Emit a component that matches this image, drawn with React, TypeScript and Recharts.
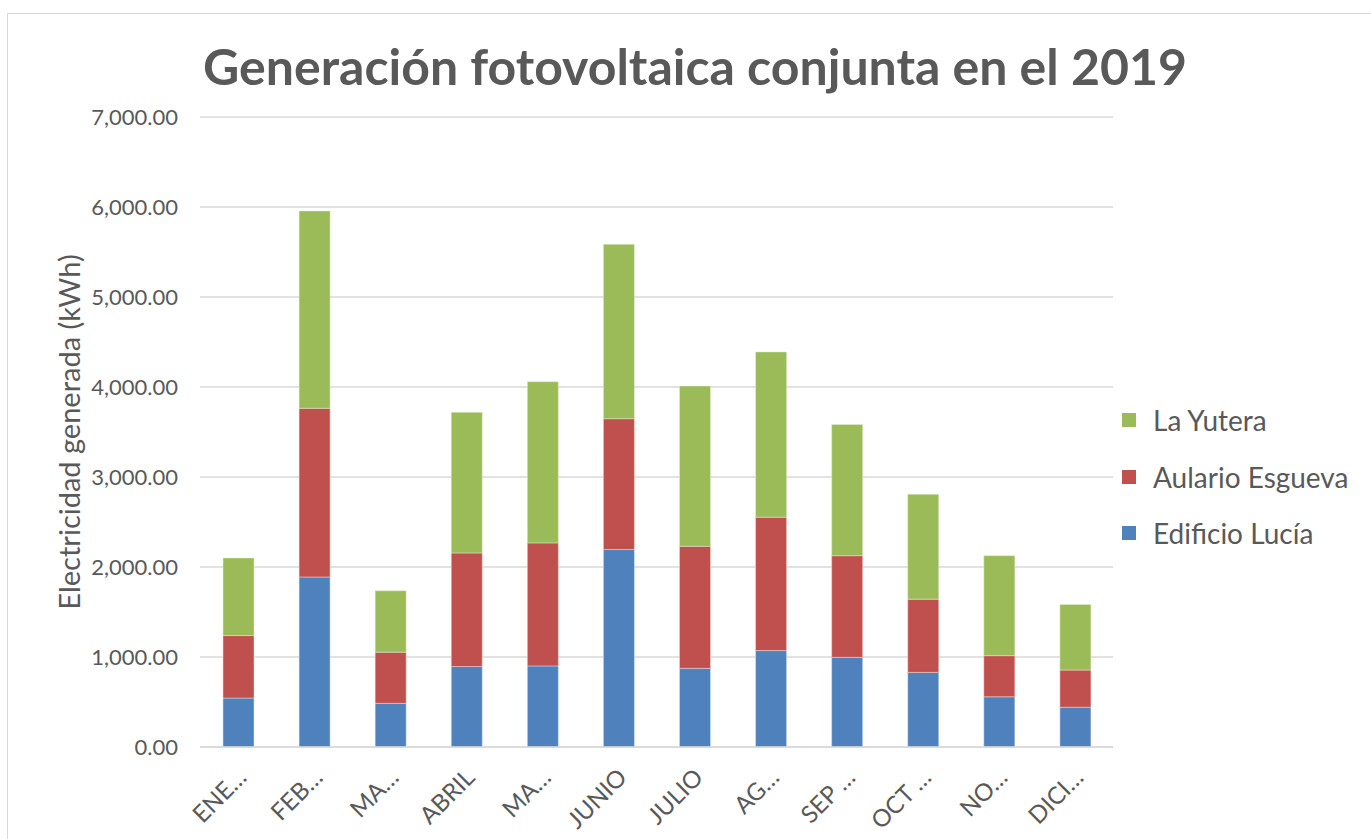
import React from 'react';
import { BarChart, Bar, XAxis, YAxis, CartesianGrid, Legend } from 'recharts';

const months = ['ENERO', 'FEBRERO', 'MARZO', 'ABRIL', 'MAYO', 'JUNIO', 'JULIO', 'AGOSTO', 'SEPTIEMBRE', 'OCTUBRE', 'NOVIEMBRE', 'DICIEMBRE'];
const tickLabels = ['ENE…', 'FEB…', 'MA…', 'ABRIL', 'MA…', 'JUNIO', 'JULIO', 'AG…', 'SEP …', 'OCT …', 'NO…', 'DICI…'];
const edificioLucia = [544, 1889, 485, 894, 901, 2194, 874, 1071, 996, 829, 558, 442];
const aularioEsgueva = [694, 1874, 569, 1262, 1367, 1454, 1356, 1483, 1130, 814, 457, 413];
const laYutera = [862, 2193, 682, 1563, 1791, 1937, 1781, 1836, 1458, 1164, 1111, 729];
const yTicks = [0, 1000, 2000, 3000, 4000, 5000, 6000, 7000];

const seriesNames = ['Edificio Lucía', 'Aulario Esgueva', 'La Yutera'];
const colors = ['#4F81BD', '#C0504D', '#9BBB59'];

const data = months.map((m, i) => ({
  month: m,
  label: tickLabels[i],
  lucia: edificioLucia[i],
  aulario: aularioEsgueva[i],
  yutera: laYutera[i],
}));

const FONT = 'Lato, "Open Sans", sans-serif';
const TEXT = '#595959';

const fmt = (v: number) =>
  v.toLocaleString('en-US', { minimumFractionDigits: 2, maximumFractionDigits: 2 });

const XTick = (props: any) => {
  const { x, y, index } = props;
  return (
    <g transform={`translate(${x + 10},${y + 24})`}>
      <text textAnchor="end" transform="rotate(-45)" fill={TEXT} fontSize={24} fontFamily={FONT}>
        {tickLabels[index]}
      </text>
    </g>
  );
};

const LegendContent = () => (
  <div style={{ fontFamily: FONT, color: TEXT, fontSize: 28 }}>
    {[2, 1, 0].map((i) => (
      <div key={i} style={{ display: 'flex', alignItems: 'center', height: 56.5 }}>
        <span style={{ display: 'inline-block', width: 14, height: 14, background: colors[i], marginRight: 17 }} />
        <span>{seriesNames[i]}</span>
      </div>
    ))}
  </div>
);

export default function App() {
  return (
    <div style={{ position: 'absolute', left: 0, top: 0, width: 1371, height: 839, background: '#fff', overflow: 'hidden' }}>
      <div style={{ position: 'absolute', left: 7, top: 13, width: 1380, height: 900, border: '1px solid #D9D9D9', boxSizing: 'border-box' }} />
      <div style={{ position: 'absolute', left: 0, top: 36, width: 1390, textAlign: 'center', fontFamily: FONT, fontWeight: 700, fontSize: 50, color: TEXT, whiteSpace: 'nowrap' }}>
        Generación fotovoltaica conjunta en el 2019
      </div>
      <div style={{ position: 'absolute', left: 68, top: 432, width: 0, height: 0 }}>
        <div style={{ position: 'absolute', transform: 'translate(-50%,-50%) rotate(-90deg)', fontFamily: FONT, fontSize: 29, color: TEXT, whiteSpace: 'nowrap' }}>
          Electricidad generada (kWh)
        </div>
      </div>
      <div style={{ position: 'absolute', left: 0, top: 0 }}>
        <BarChart width={1371} height={839} data={data} margin={{ top: 117, right: 8, bottom: 12, left: 0 }}>
          <CartesianGrid vertical={false} stroke="#D9D9D9" strokeWidth={1.5} />
          <XAxis dataKey="month" tick={<XTick />} tickLine={false} axisLine={{ stroke: '#D9D9D9', strokeWidth: 1.5 }} height={80} interval={0} />
          <YAxis
            width={200}
            domain={[0, 7000]}
            ticks={yTicks}
            tickFormatter={fmt}
            tickLine={false}
            axisLine={false}
            tickSize={0}
            tickMargin={22}
            tick={{ fill: TEXT, fontSize: 22, fontFamily: FONT }}
          />
          <Legend layout="vertical" align="right" verticalAlign="top" content={<LegendContent />} wrapperStyle={{ left: 1122, top: 392, width: 250 }} />
          <Bar dataKey="lucia" name={seriesNames[0]} stackId="a" fill={colors[0]} barSize={31} stroke="#dbe4f0" strokeWidth={0.5} isAnimationActive={false} />
          <Bar dataKey="aulario" name={seriesNames[1]} stackId="a" fill={colors[1]} barSize={31} stroke="#f0d8d8" strokeWidth={0.5} isAnimationActive={false} />
          <Bar dataKey="yutera" name={seriesNames[2]} stackId="a" fill={colors[2]} barSize={31} stroke="#e2ecd2" strokeWidth={0.5} isAnimationActive={false} />
        </BarChart>
      </div>
    </div>
  );
}
